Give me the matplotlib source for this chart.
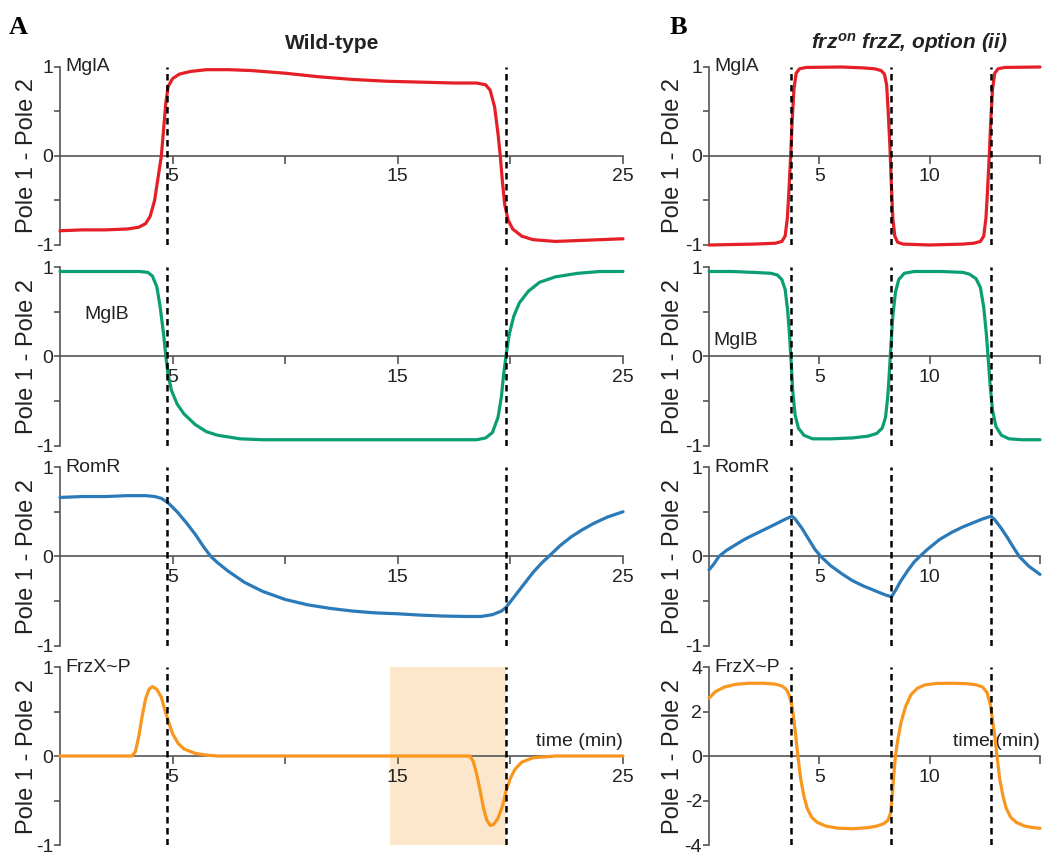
import matplotlib
matplotlib.use('Agg')
import matplotlib.pyplot as plt
import numpy as np

plt.rcParams['font.family'] = ['Liberation Sans', 'DejaVu Sans']
plt.rcParams['mathtext.fontset'] = 'custom'
plt.rcParams['mathtext.it'] = 'Liberation Sans:italic:bold'
plt.rcParams['mathtext.rm'] = 'Liberation Sans:bold'

# ---- data ----
# A: wild-type, time 0..25 min
wt_mgla_t = [0, 1, 2, 3, 3.5, 3.8, 4.0, 4.2, 4.35, 4.5, 4.6, 4.7, 4.8, 5.0, 5.3, 5.8, 6.5, 7.5,
             8.5, 10, 11.5, 13, 14.5, 16, 17.5, 18.5, 18.9, 19.1, 19.3, 19.45, 19.55, 19.65,
             19.75, 19.9, 20.1, 20.5, 21, 22, 23, 24, 25]
wt_mgla_v = [-0.84, -0.83, -0.83, -0.82, -0.80, -0.76, -0.68, -0.50, -0.25, 0.0, 0.3, 0.6, 0.78,
             0.87, 0.92, 0.95, 0.97, 0.97, 0.96, 0.93, 0.89, 0.86, 0.84, 0.83, 0.82, 0.82, 0.80,
             0.74, 0.55, 0.25, 0.0, -0.3, -0.55, -0.72, -0.82, -0.9, -0.94, -0.96, -0.95, -0.94,
             -0.93]

wt_mglb_t = [0, 2, 3.5, 3.9, 4.1, 4.3, 4.45, 4.6, 4.7, 4.8, 4.95, 5.2, 5.5, 6.0, 6.5, 7.0, 8.0,
             9.0, 12, 16, 18.5, 18.9, 19.2, 19.45, 19.6, 19.7, 19.8, 19.95, 20.15, 20.4, 20.8,
             21.3, 22, 23, 24, 25]
wt_mglb_v = [0.95, 0.95, 0.95, 0.94, 0.90, 0.78, 0.55, 0.25, 0.0, -0.2, -0.38, -0.53, -0.64,
             -0.76, -0.84, -0.88, -0.92, -0.93, -0.93, -0.93, -0.93, -0.91, -0.85, -0.68, -0.45,
             -0.2, 0.0, 0.25, 0.45, 0.6, 0.73, 0.83, 0.89, 0.93, 0.95, 0.95]

wt_romr_t = [0, 1, 2, 3, 3.8, 4.2, 4.5, 4.8, 5.2, 5.6, 6.0, 6.4, 6.7, 7.0, 7.5, 8.2, 9.0, 10, 11,
             12, 13, 14, 15, 16, 17, 18, 18.7, 19.2, 19.6, 19.8, 20.2, 20.6, 21, 21.4, 21.7,
             22.2, 22.7, 23.2, 23.7, 24.3, 25]
wt_romr_v = [0.66, 0.67, 0.67, 0.68, 0.68, 0.67, 0.65, 0.60, 0.50, 0.38, 0.25, 0.10, 0.0, -0.07,
             -0.17, -0.29, -0.39, -0.48, -0.54, -0.58, -0.61, -0.63, -0.64, -0.655, -0.665,
             -0.67, -0.67, -0.65, -0.61, -0.57, -0.44, -0.31, -0.18, -0.07, 0.0, 0.12, 0.22,
             0.30, 0.37, 0.44, 0.50]

wt_frzx_t = [0, 3.2, 3.35, 3.5, 3.65, 3.8, 3.95, 4.1, 4.3, 4.5, 4.65, 4.8, 5.0, 5.25, 5.5, 6.0,
             6.5, 7.0, 18.2, 18.35, 18.5, 18.65, 18.8, 18.95, 19.1, 19.25, 19.45, 19.65, 19.8,
             20.0, 20.2, 20.5, 21, 21.5, 22, 25]
wt_frzx_v = [0, 0, 0.05, 0.22, 0.45, 0.64, 0.75, 0.78, 0.75, 0.66, 0.52, 0.40, 0.25, 0.14, 0.08,
             0.03, 0.01, 0.0, 0.0, -0.06, -0.2, -0.38, -0.58, -0.72, -0.78, -0.77, -0.70, -0.56,
             -0.40, -0.25, -0.15, -0.07, -0.02, -0.01, 0, 0]

wt_reversals = [4.77, 19.8]
wt_span = (14.67, 19.8)

# B: frz-on frzZ, option (ii), time 0..15 min
fz_mgla_t = [0, 2, 3.0, 3.3, 3.45, 3.55, 3.62, 3.7, 3.77, 3.85, 3.95, 4.1, 4.4, 6, 7.0, 7.5, 7.8,
             7.95, 8.05, 8.12, 8.2, 8.26, 8.33, 8.42, 8.55, 8.8, 10, 11.5, 12.0, 12.3, 12.45,
             12.55, 12.62, 12.7, 12.77, 12.85, 12.95, 13.1, 13.4, 15]
fz_mgla_v = [-1.0, -0.99, -0.98, -0.96, -0.9, -0.7, -0.4, 0.0, 0.4, 0.75, 0.93, 0.98, 0.995, 1.0,
             0.99, 0.98, 0.96, 0.92, 0.8, 0.5, 0.1, -0.3, -0.7, -0.9, -0.97, -0.99, -1.0, -0.99,
             -0.98, -0.96, -0.9, -0.7, -0.4, 0.0, 0.4, 0.75, 0.93, 0.98, 0.995, 1.0]

fz_mglb_t = [0, 1, 2, 2.8, 3.1, 3.3, 3.45, 3.57, 3.66, 3.73, 3.8, 3.9, 4.05, 4.3, 4.7, 5.5, 6.5,
             7.2, 7.6, 7.85, 8.0, 8.1, 8.18, 8.25, 8.33, 8.45, 8.6, 8.85, 9.3, 10.5, 11.5, 11.8,
             12.1, 12.3, 12.45, 12.57, 12.66, 12.75, 12.85, 13.0, 13.25, 13.6, 14.2, 15]
fz_mglb_v = [0.95, 0.95, 0.94, 0.93, 0.91, 0.86, 0.75, 0.5, 0.2, -0.1, -0.4, -0.65, -0.8, -0.88,
             -0.92, -0.92, -0.91, -0.89, -0.86, -0.8, -0.68, -0.45, -0.15, 0.15, 0.45, 0.72,
             0.86, 0.93, 0.95, 0.95, 0.94, 0.92, 0.87, 0.77, 0.55, 0.25, -0.05, -0.35, -0.6,
             -0.78, -0.88, -0.92, -0.93, -0.93]

fz_romr_t = [0, 0.2, 0.45, 0.8, 1.2, 1.6, 2.0, 2.5, 3.0, 3.4, 3.76, 3.9, 4.2, 4.5, 4.8, 5.07, 5.5,
             6.0, 6.5, 7.0, 7.5, 8.0, 8.27, 8.45, 8.7, 9.0, 9.3, 9.55, 9.9, 10.45, 11.0, 11.5,
             12.0, 12.4, 12.78, 12.95, 13.2, 13.5, 13.8, 14.06, 14.5, 15]
fz_romr_v = [-0.15, -0.09, 0.0, 0.07, 0.13, 0.19, 0.24, 0.30, 0.36, 0.41, 0.45, 0.42, 0.32, 0.20,
             0.08, 0.0, -0.10, -0.19, -0.27, -0.33, -0.38, -0.43, -0.45, -0.38, -0.27, -0.16,
             -0.06, 0.0, 0.08, 0.19, 0.27, 0.33, 0.38, 0.42, 0.45, 0.41, 0.33, 0.22, 0.10, 0.0,
             -0.11, -0.2]

fz_frzx_t = [0, 0.3, 0.7, 1.2, 1.8, 2.5, 3.0, 3.3, 3.5, 3.65, 3.77, 3.85, 3.93, 4.03, 4.15, 4.3,
             4.45, 4.65, 4.9, 5.3, 5.8, 6.5, 7.2, 7.6, 7.9, 8.1, 8.22, 8.3, 8.37, 8.45, 8.55,
             8.7, 8.9, 9.15, 9.45, 9.8, 10.3, 11, 11.7, 12.1, 12.4, 12.6, 12.75, 12.85, 12.95,
             13.05, 13.17, 13.32, 13.47, 13.67, 13.92, 14.3, 14.7, 15]
fz_frzx_v = [2.6, 2.9, 3.1, 3.22, 3.27, 3.27, 3.23, 3.15, 3.0, 2.7, 2.2, 1.6, 0.9, 0.0, -1.0,
             -1.8, -2.35, -2.75, -2.98, -3.15, -3.24, -3.27, -3.22, -3.15, -3.05, -2.9, -2.6,
             -1.9, -0.9, 0.0, 0.7, 1.5, 2.2, 2.75, 3.05, 3.2, 3.26, 3.27, 3.25, 3.2, 3.1, 2.85,
             2.3, 1.6, 0.9, 0.0, -1.0, -1.8, -2.35, -2.75, -2.98, -3.15, -3.22, -3.25]

fz_reversals = [3.73, 8.25, 12.77]

names = ['MglA', 'MglB', 'RomR', 'FrzX~P']
colors = ['#e41f26', '#0b9e74', '#2a7ab9', '#f8961e']

wt_series = [(wt_mgla_t, wt_mgla_v), (wt_mglb_t, wt_mglb_v),
             (wt_romr_t, wt_romr_v), (wt_frzx_t, wt_frzx_v)]
fz_series = [(fz_mgla_t, fz_mgla_v), (fz_mglb_t, fz_mglb_v),
             (fz_romr_t, fz_romr_v), (fz_frzx_t, fz_frzx_v)]

# ---- layout (pixels of a 1043x855 figure) ----
W, H = 1043, 855
rows_px = [(67, 245), (267, 446), (467, 646), (667, 845)]
cols_px = [(60, 623), (709, 1040)]

fig = plt.figure(figsize=(W / 100, H / 100), dpi=100)
fig.patch.set_facecolor('white')

axc = '#555555'
txt = '#222222'


def make_ax(col, row):
    x0, x1 = cols_px[col]
    y0, y1 = rows_px[row]
    ax = fig.add_axes([x0 / W, 1 - y1 / H, (x1 - x0) / W, (y1 - y0) / H])
    for s in ['top', 'right']:
        ax.spines[s].set_visible(False)
    ax.spines['bottom'].set_position(('data', 0))
    for s in ['left', 'bottom']:
        ax.spines[s].set_color(axc)
        ax.spines[s].set_linewidth(1.2)
    ax.tick_params(axis='both', colors=axc, labelcolor=txt, labelsize=14, width=1.2)
    ax.tick_params(axis='y', direction='out', length=4, pad=1)
    ax.tick_params(axis='x', direction='out', length=6, pad=3)
    ax.set_facecolor('none')
    return ax


def style_panel(ax, col, row, name):
    if col == 0:
        ax.set_xlim(0, 25)
        ax.set_xticks([5, 10, 15, 20, 25])
        ax.set_xticklabels(['5', '', '15', '', '25'])
        ylx = -0.039
    else:
        ax.set_xlim(0, 15)
        ax.set_xticks([5, 10, 15])
        ax.set_xticklabels(['5', '10', ''])
        ylx = -0.075
    if col == 1 and row == 3:
        ax.set_ylim(-4, 4)
        ax.set_yticks([-4, -2, 0, 2, 4])
        ax.set_yticklabels(['-4', '-2', '0', '2', '4'])
        top = 4
    else:
        ax.set_ylim(-1, 1)
        ax.set_yticks([-1, -0.5, 0, 0.5, 1])
        ax.set_yticklabels(['-1', '', '0', '', '1'])
        top = 1
    ax.set_ylabel('Pole 1 - Pole 2', fontsize=17, color=txt)
    ax.yaxis.set_label_coords(ylx, 0.5)

    # protein name
    if name == 'MglB' and col == 0:
        ax.text(1.1, 0.47, name, fontsize=14, color=txt, va='center', ha='left')
    elif name == 'MglB' and col == 1:
        ax.text(0.2, 0.18, name, fontsize=14, color=txt, va='center', ha='left')
    else:
        ax.text(0.25, top, name, fontsize=14, color=txt, va='center', ha='left')
    if row == 3:
        xe = 25 if col == 0 else 15
        ax.text(xe, 0.07 * top, 'time (min)', fontsize=14, color=txt,
                ha='right', va='bottom')


for row in range(4):
    ax = make_ax(0, row)
    style_panel(ax, 0, row, names[row])
    if row == 3:
        ax.axvspan(wt_span[0], wt_span[1], color='#fde7cc', lw=0, zorder=0)
    t, v = wt_series[row]
    ax.plot(t, v, color=colors[row], lw=2.3, clip_on=False, zorder=3,
            solid_capstyle='round')
    for xr in wt_reversals:
        ax.axvline(xr, color='black', lw=1.8, ls=(0, (2.6, 1.8)), zorder=4)
    if row == 0:
        ax.set_title('Wild-type', fontsize=15, fontweight='bold', x=0.483, y=1.0,
                     pad=13, color=txt)

for row in range(4):
    ax = make_ax(1, row)
    style_panel(ax, 1, row, names[row])
    t, v = fz_series[row]
    ax.plot(t, v, color=colors[row], lw=2.3, clip_on=False, zorder=3,
            solid_capstyle='round')
    for xr in fz_reversals:
        ax.axvline(xr, color='black', lw=1.8, ls=(0, (2.6, 1.8)), zorder=4)
    if row == 0:
        ax.set_title(r'$frz^{on}$ frzZ, option (ii)', fontsize=15, fontweight='bold',
                     fontstyle='italic', x=0.607, y=1.0, pad=13, color=txt)

fig.text(18 / W, 1 - 28 / H, 'A', fontsize=19, fontweight='bold',
         family='Liberation Serif', ha='center', va='center')
fig.text(678 / W, 1 - 28 / H, 'B', fontsize=19, fontweight='bold',
         family='Liberation Serif', ha='center', va='center')

fig.savefig('out.png', dpi=100)
